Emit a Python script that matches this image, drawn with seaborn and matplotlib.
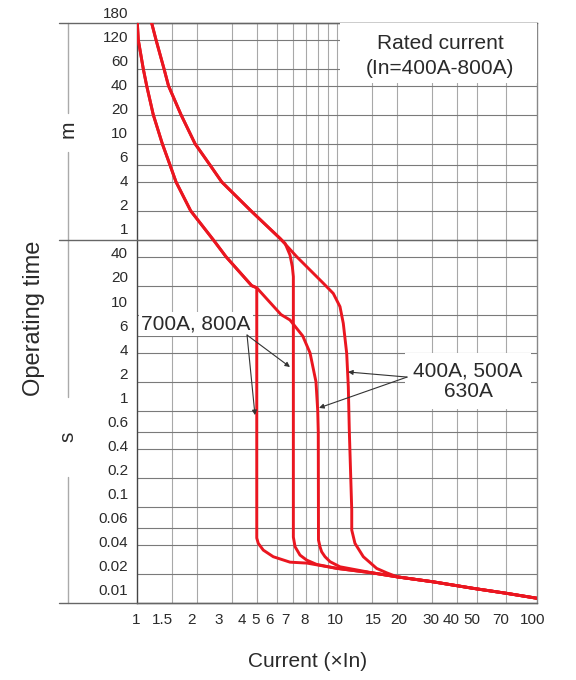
import numpy as np
import pandas as pd
import seaborn as sns
import matplotlib.pyplot as plt
from matplotlib.patches import Rectangle
from matplotlib.ticker import NullLocator

# long-time (thermal) parts, current in xIn, time in seconds
left_I = [1.004, 1.015, 1.075, 1.118, 1.206, 1.338, 1.462, 1.567, 1.856, 2.407, 2.786, 3.746]
left_t = [10800, 7200, 3600, 2400, 1200, 600, 360, 240, 120, 60, 40, 20]
right_I = [1.184, 1.245, 1.365, 1.437, 1.66, 1.950, 2.317, 2.652, 3.715, 5.19]
right_t = [10800, 7200, 3600, 2400, 1200, 600, 360, 240, 120, 62]

# shared instantaneous tail
tail_I = [15.2, 20.0, 30.3, 48.0, 70.6, 100]
tail_t = [0.0205, 0.0187, 0.0166, 0.0142, 0.0126, 0.0112]

# 700A / 800A
c700_I = [3.97, 3.97, 4.04, 4.28, 4.80, 5.82, 7.08, 10.0]
c700_t = [19, 0.0474, 0.0417, 0.0355, 0.0303, 0.0266, 0.0260, 0.0229]
c800_I = [5.50, 5.82, 5.98, 6.05, 6.05, 6.17, 6.53, 7.06, 7.91, 10.0]
c800_t = [55.1, 41.7, 31.5, 24.8, 0.0485, 0.0385, 0.0315, 0.0279, 0.0252, 0.0229]

# 400A / 500A / 630A
c400_I = [3.97, 5.25, 5.82, 6.74, 7.33, 7.85, 8.01, 8.06, 8.08, 8.22, 8.38, 8.71, 9.23, 10.35]
c400_t = [19, 10, 8.79, 6, 4, 2, 1, 0.6, 0.0452, 0.0385, 0.0341, 0.0303, 0.0269, 0.0238]
c630_I = [6.29, 8.54, 9.58, 10.35, 10.75, 11.18, 11.39, 11.52, 11.85, 11.85, 12.30, 13.54, 15.79, 17.72]
c630_t = [40.0, 21.2, 16.6, 12.1, 8.12, 3.96, 1.78, 0.63, 0.0927, 0.0574, 0.0417, 0.0303, 0.0229, 0.0206]

x_grid = [1.5, 2, 3, 4, 5, 6, 7, 8, 9, 10, 15, 20, 30, 40, 50, 70]
y_grid = [7200, 3600, 2400, 1200, 600, 360, 240, 120, 60, 40, 20, 10, 6, 4, 2, 1,
          0.6, 0.4, 0.2, 0.1, 0.06, 0.04, 0.02]
x_labels = ["1", "1.5", "2", "3", "4", "5", "6", "7", "8", "10", "15", "20", "30", "40", "50", "70", "100"]
y_labels = ["180", "120", "60", "40", "20", "10", "6", "4", "2", "1",
            "40", "20", "10", "6", "4", "2", "1", "0.6", "0.4", "0.2", "0.1", "0.06", "0.04", "0.02", "0.01"]

# where the x labels sit along the axis (axes fraction), as printed on the sheet
x_label_at = [-0.0025, 0.0625, 0.135, 0.205, 0.2625, 0.2975, 0.33, 0.37, 0.42, 0.495,
              0.59, 0.655, 0.735, 0.785, 0.8375, 0.91, 0.99]


def curve(name, I, t):
    return pd.DataFrame({"curve": name, "I": I, "t": t})


df = pd.concat([
    curve("700A", left_I + c700_I + tail_I, left_t + c700_t + tail_t),
    curve("800A", right_I + c800_I + tail_I, right_t + c800_t + tail_t),
    curve("400A", left_I + c400_I + tail_I, left_t + c400_t + tail_t),
    curve("630A", right_I + c630_I + tail_I[1:], right_t + c630_t + tail_t[1:]),
], ignore_index=True)

sns.set_style("white")
plt.rcParams["font.family"] = ["Liberation Sans", "DejaVu Sans"]
TXT = "#2a2a2a"
RED = "#ea1620"

fig = plt.figure(figsize=(5.76, 6.8), dpi=100)
ax = fig.add_axes([137 / 576, 77 / 680, 400 / 576, 580 / 680])

sns.lineplot(data=df, x="I", y="t", units="curve", estimator=None, sort=False,
             color=RED, lw=2.1, ax=ax, zorder=4)
for ln in ax.lines:
    ln.set_solid_joinstyle("round")

ax.set_xscale("log")
ax.set_yscale("log")
ax.set_xlim(1, 100)
ax.set_ylim(0.01, 10800)
ax.set_xticks(x_grid, labels=[""] * len(x_grid))
ax.set_yticks(y_grid, labels=[""] * len(y_grid))
ax.xaxis.set_minor_locator(NullLocator())
ax.yaxis.set_minor_locator(NullLocator())
ax.tick_params(length=0)
ax.set_xlabel("")
ax.set_ylabel("")
ax.grid(True, axis="x", color="#a8a8a8", lw=0.8)
ax.grid(True, axis="y", color="#7a7a7a", lw=0.8)
ax.set_axisbelow(True)

for side, col in [("left", "#444444"), ("bottom", "#666666"), ("top", "#888888"), ("right", "#888888")]:
    ax.spines[side].set_color(col)
    ax.spines[side].set_linewidth(1.0)

# border lines running out to the unit bracket
for t in [10800, 60, 0.01]:
    ax.axhline(t, xmin=-0.195, xmax=1, color="#666666", lw=1.0, clip_on=False, zorder=3)
for y0, y1 in [(1.0, 0.845), (0.7776, 0.3552), (0.2172, 0.0)]:
    ax.plot([-0.1725, -0.1725], [y0, y1], transform=ax.transAxes, color="#aaaaaa",
            lw=1.0, clip_on=False)
ax.text(-0.1725, 0.817, "m", transform=ax.transAxes, rotation=90, ha="center", va="center",
        fontsize=15, color=TXT)
ax.text(-0.1725, 0.286, "s", transform=ax.transAxes, rotation=90, ha="center", va="center",
        fontsize=15, color=TXT)
ax.text(-0.2575, 0.491, "Operating time", transform=ax.transAxes, rotation=90,
        ha="center", va="center", fontsize=17, color=TXT)
ax.text(0.4275, -0.1017, "Current (\u00d7In)", transform=ax.transAxes, ha="center",
        va="center", fontsize=15, color=TXT)

for lab, y in zip(y_labels, np.linspace(1.0155, 0.0207, len(y_labels))):
    ax.text(-0.0225, y, lab, transform=ax.transAxes, ha="right", va="center",
            fontsize=11, color=TXT)
for lab, x in zip(x_labels, x_label_at):
    ax.text(x, -0.0293, lab, transform=ax.transAxes, ha="center", va="center",
            fontsize=11, color=TXT)

# rated current box
ax.add_patch(Rectangle((0.508, 0.8966), 0.492, 0.1034, transform=ax.transAxes,
                       facecolor="white", edgecolor="none", zorder=3))
ax.text(0.7575, 0.943, "Rated current\n(In=400A-800A)", transform=ax.transAxes,
        ha="center", va="center", fontsize=15, color=TXT, linespacing=1.35, zorder=5)

# callouts
box = dict(facecolor="white", edgecolor="none", pad=1.5)
ax.text(1.97, 7.97, "700A, 800A", ha="center", va="center", fontsize=15, color=TXT,
        bbox=box, zorder=5)
ax.text(45.2, 2.04, "400A, 500A\n630A", ha="center", va="center", fontsize=15,
        color=TXT, linespacing=1.1, multialignment="center",
        bbox=dict(facecolor="white", edgecolor="none", pad=6), zorder=5)
arrow = dict(arrowstyle="-|>", color="#333333", lw=0.8, mutation_scale=7, shrinkA=0, shrinkB=0)
for head in [(3.89, 0.90), (5.82, 2.85)]:
    ax.annotate("", xy=head, xytext=(3.55, 6.13), arrowprops=arrow, zorder=6)
for head in [(11.35, 2.53), (8.13, 1.07)]:
    ax.annotate("", xy=head, xytext=(22.4, 2.24), arrowprops=arrow, zorder=6)

fig.savefig("out.png", dpi=100)
